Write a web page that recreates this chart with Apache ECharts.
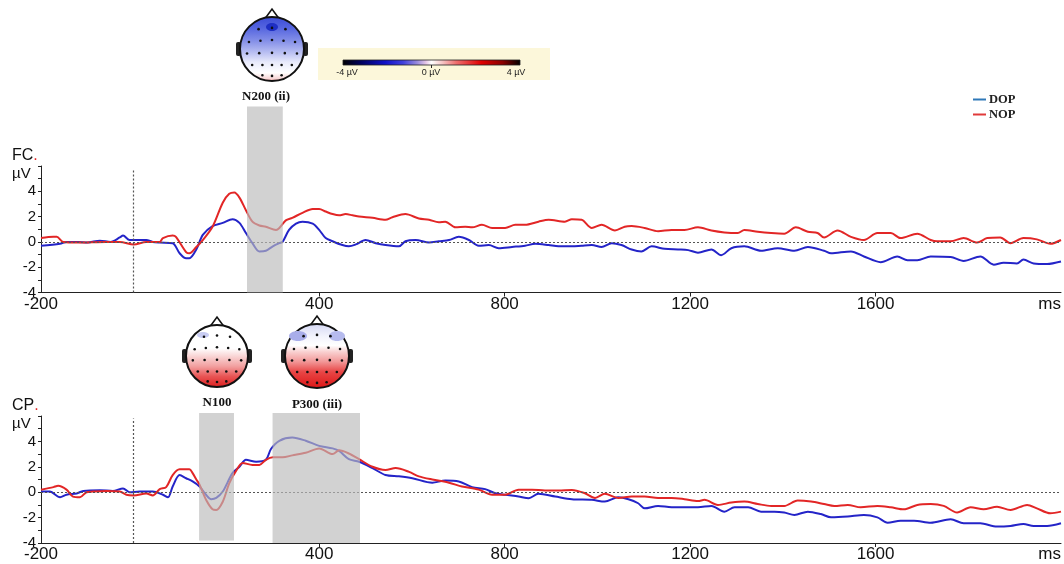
<!DOCTYPE html>
<html>
<head>
<meta charset="utf-8">
<script src="https://cdn.jsdelivr.net/npm/echarts@6/dist/echarts.min.js"></script>
<style>
html,body{margin:0;padding:0;background:#fff;}
#chart{width:1064px;height:564px;}
</style>
</head>
<body>
<div id="chart"></div>
<script>
// ---- Data (ms, µV) ----
const xTickLabels = [-200, 400, 800, 1200, 1600, 2000];
const yTickLabels = [-4, -2, 0, 2, 4];
const seriesNames = ['DOP', 'NOP'];

const fcNopT = [-200,-173,-166,-152,-120,-60,-30,0,27,56,63,84,91,113,120,135,149,170,192,206,217,228,242,256,271,285,307,314,328,342,364,386,400,414,429,443,457,472,486,515,543,558,586,615,637,658,672,694,715,730,751,773,801,823,844,873,895,930,945,966,988,1009,1038,1059,1074,1102,1131,1160,1188,1217,1246,1274,1303,1317,1346,1375,1403,1428,1454,1475,1489,1518,1547,1575,1604,1633,1654,1690,1719,1733,1762,1790,1819,1841,1869,1891,1919,1948,1977,2000];
const fcNopV = [0.3,0.4,0.4,0.0,-0.05,0.0,0.0,-0.2,0.0,0.0,0.3,0.5,0.4,-0.8,-0.9,-0.4,0.15,1.2,3.1,3.8,3.9,3.5,2.5,1.6,1.3,1.2,0.95,1.1,1.7,1.9,2.3,2.6,2.6,2.4,2.2,2.1,2.2,2.1,2.0,1.9,1.75,1.95,2.2,1.85,1.75,1.55,1.6,1.15,1.2,1.15,1.35,1.1,1.1,1.35,1.35,1.6,1.75,1.6,1.8,1.75,1.1,1.35,0.9,1.2,1.25,1.1,0.85,0.95,0.95,1.15,0.9,0.75,0.7,0.95,0.8,0.7,0.65,1.15,0.8,0.7,0.35,0.9,0.4,0.15,0.7,0.7,0.3,0.65,0.15,0.05,0.05,0.3,-0.05,0.3,0.35,-0.1,0.3,0.2,-0.15,0.15];

const fcDopT = [-200,-159,-145,-120,-100,-73,-50,-30,-23,-9,0,27,41,56,84,99,113,120,135,149,170,192,213,228,242,256,271,285,300,314,321,335,350,364,386,400,414,429,450,464,479,500,522,543,572,586,608,637,658,680,701,723,744,766,787,816,844,866,895,916,945,966,988,1009,1031,1052,1074,1095,1117,1145,1174,1196,1217,1246,1267,1289,1317,1353,1389,1425,1454,1489,1504,1547,1575,1611,1647,1669,1690,1719,1762,1790,1826,1855,1876,1905,1919,1941,1970,2000];
const fcDopV = [-0.3,-0.15,0.0,0.0,-0.05,0.1,0.0,0.35,0.5,0.15,0.15,0.15,0.0,-0.05,-0.1,-0.9,-1.3,-1.3,-0.6,0.55,1.25,1.5,1.8,1.5,0.7,-0.1,-0.75,-0.7,-0.35,-0.1,0.0,0.95,1.45,1.6,1.45,0.95,0.3,0.05,-0.25,-0.35,-0.2,0.15,-0.1,-0.25,-0.35,0.05,0.15,-0.05,0.05,0.15,0.4,0.15,-0.3,-0.25,-0.5,-0.4,-0.3,-0.15,-0.25,-0.35,-0.35,-0.3,-0.25,-0.4,-0.1,-0.25,-0.6,-0.75,-0.35,-0.55,-0.6,-0.65,-0.85,-0.6,-1.05,-0.5,-0.35,-0.7,-0.5,-0.7,-0.4,-0.7,-0.9,-0.75,-1.15,-1.6,-1.15,-1.45,-1.45,-1.15,-1.2,-1.5,-1.15,-1.8,-1.65,-1.7,-1.4,-1.7,-1.75,-1.55];

const cpNopT = [-200,-173,-163,-145,-131,-116,-102,-88,-59,-30,-16,0,27,41,56,70,84,99,120,127,135,142,156,170,178,192,206,221,235,256,271,285,300,321,342,371,400,429,443,464,486,515,543,565,594,615,644,680,708,744,773,801,830,859,887,916,945,973,995,1016,1045,1074,1102,1131,1160,1188,1217,1231,1260,1289,1317,1346,1375,1403,1432,1461,1489,1511,1540,1568,1604,1633,1661,1690,1719,1747,1776,1805,1833,1862,1891,1927,1948,1977,2000];
const cpNopV = [0.2,0.4,0.5,0.2,-0.35,-0.4,0.0,0.05,0.1,0.05,-0.2,-0.25,-0.1,-0.25,0.25,0.4,1.35,1.8,1.8,1.5,1.0,0.6,-0.6,-1.35,-1.4,-0.75,0.7,1.7,2.3,2.15,2.15,2.55,2.75,2.75,2.9,3.1,3.45,3.0,3.3,3.05,2.6,2.0,1.75,1.9,1.6,1.25,1.0,0.75,0.45,0.2,-0.2,-0.2,0.2,0.2,0.13,0.13,0.18,-0.08,-0.45,-0.13,-0.45,-0.34,-0.34,-0.45,-0.45,-0.55,-0.7,-0.6,-1.0,-0.82,-0.74,-0.93,-1.08,-1.08,-0.66,-0.74,-0.93,-1.08,-1.0,-1.19,-1.08,-1.19,-1.35,-1.0,-0.93,-1.08,-1.6,-1.19,-1.35,-1.14,-1.4,-1.0,-1.27,-1.66,-1.53];

const cpDopT = [-200,-181,-159,-145,-123,-109,-73,-45,-23,-9,13,41,63,74,84,99,113,127,142,156,167,178,192,213,228,242,264,285,296,314,342,371,400,429,443,464,486,515,543,572,601,644,672,701,730,758,780,801,830,852,873,909,945,988,1016,1045,1067,1088,1102,1131,1160,1188,1217,1246,1274,1296,1325,1353,1382,1403,1425,1454,1482,1504,1540,1575,1604,1626,1654,1683,1719,1762,1790,1826,1862,1891,1919,1941,1970,2000];
const cpDopV = [0.05,0.05,-0.4,-0.2,-0.1,0.1,0.15,0.1,0.3,0.0,0.05,0.05,-0.2,-0.4,0.45,1.35,1.1,0.85,0.45,-0.2,-0.55,-0.45,0.05,1.5,2.0,2.55,2.4,2.55,3.4,4.05,4.3,4.05,3.65,3.45,3.25,2.6,2.4,1.9,1.35,1.25,1.1,0.75,0.92,0.85,0.4,0.24,-0.08,-0.2,-0.34,-0.47,-0.13,-0.34,-0.55,-0.6,-0.74,-0.4,-0.55,-0.87,-1.27,-1.08,-1.19,-1.19,-1.19,-1.08,-1.53,-1.19,-1.19,-1.53,-1.53,-1.6,-1.79,-1.53,-1.72,-1.98,-1.92,-1.79,-1.98,-2.4,-2.24,-2.24,-2.4,-2.13,-2.45,-2.45,-2.71,-2.66,-2.5,-2.66,-2.66,-2.45];

// Analysis windows [startMs, endMs, bottomµV, topµV]
const fcWindows = [[243, 320, -4, 10.7]];
const cpWindows = [[140, 215, -3.8, 6.25], [298, 486, -4, 6.25]];

// ---- helpers ----
function zip(t, v){ const n=Math.min(t.length,v.length); const out=[]; for(let i=0;i<n;i++) out.push([t[i],v[i]]); return out; }
const BLUE = '#2424C8', RED = '#E22626';
const SANS = 'Liberation Sans, Arial, sans-serif';
const SERIF = 'Liberation Serif, Times New Roman, serif';

const chart = echarts.init(document.getElementById('chart'), null, {renderer:'canvas'});

function xAxisCfg(idx){
  return {
    type:'value', gridIndex: idx, min:-200, max:2000,
    axisLine:{show:true, onZero:false, lineStyle:{color:'#222', width:1}},
    axisTick:{show:true, length:4, customValues:[400,800,1200,1600], lineStyle:{color:'#222'}},
    axisLabel:{show:true, customValues: xTickLabels, margin:3, fontSize:17, color:'#111', fontFamily:SANS,
      formatter: v => v === 2000 ? 'ms' : String(v), alignMaxLabel:'right'},
    splitLine:{show:false}
  };
}
function yAxisCfg(idx){
  return {
    type:'value', gridIndex: idx, min:-4, max:6,
    axisLine:{show:true, onZero:false, lineStyle:{color:'#222', width:1}},
    axisTick:{show:true, length:3, customValues:[-4,-3,-2,-1,0,1,2,3,4,5,6], lineStyle:{color:'#222'}},
    axisLabel:{show:true, customValues: yTickLabels, margin:5, fontSize:15, color:'#111', fontFamily:SANS},
    splitLine:{show:false}
  };
}
function hiddenX(idx){ return {type:'value', gridIndex:idx, min:-200, max:2000, show:false}; }
function hiddenY(idx, top){ return {type:'value', gridIndex:idx, min:-4, max:top, show:false}; }
function refSeries(idx, vTop){
  return {
    type:'line', xAxisIndex:idx, yAxisIndex:idx, data:[], z:1, silent:true,
    markLine:{silent:true, symbol:['none','none'], animation:false, label:{show:false},
      lineStyle:{type:[2,2], color:'#555', width:1.2},
      data:[ [{coord:[-200,0]},{coord:[2000,0]}], [{coord:[0,-4]},{coord:[0,vTop]}] ]}
  };
}
function shadeSeries(idx, wins){
  return {
    type:'line', xAxisIndex:idx, yAxisIndex:idx, data:[], z:10, silent:true,
    markArea:{silent:true, z:10, animation:false, itemStyle:{color:'rgba(186,186,186,0.66)'},
      data: wins.map(w => [{xAxis:w[0], yAxis:w[2]}, {xAxis:w[1], yAxis:w[3]}])}
  };
}
function wave(name, idx, data, color){
  return {name, type:'line', xAxisIndex:idx, yAxisIndex:idx, data, showSymbol:false, symbol:'none',
    smooth:0.3, lineStyle:{color, width:2}, itemStyle:{color}, z:3, animation:false};
}

// ---- topomap decorations ----
const elecs = [[-0.42,-0.62],[0,-0.66],[0.42,-0.62],[-0.72,-0.22],[-0.36,-0.26],[0,-0.28],[0.36,-0.26],[0.72,-0.22],
  [-0.78,0.14],[-0.4,0.13],[0,0.12],[0.4,0.13],[0.78,0.14],[-0.62,0.5],[-0.3,0.5],[0,0.5],[0.3,0.5],[0.62,0.5],[-0.3,0.82],[0,0.84],[0.3,0.82]];
function head(cx, cy, r, stops, extras){
  const ch = [];
  ch.push({type:'polygon', shape:{points:[[cx-8,cy-r+3],[cx,cy-r-8],[cx+8,cy-r+3]]}, style:{fill:'#fff', stroke:'#111', lineWidth:1.6}, z:100});
  ch.push({type:'rect', shape:{x:cx-r-4, y:cy-7, width:5, height:14, r:2}, style:{fill:'#222'}, z:100});
  ch.push({type:'rect', shape:{x:cx+r-1, y:cy-7, width:5, height:14, r:2}, style:{fill:'#222'}, z:100});
  ch.push({type:'circle', shape:{cx, cy, r}, style:{fill:new echarts.graphic.LinearGradient(0,0,0,1,stops), stroke:'#111', lineWidth:2}, z:101});
  (extras||[]).forEach(e => ch.push(Object.assign({z:102}, e)));
  elecs.forEach(p => ch.push({type:'circle', shape:{cx:cx+p[0]*r, cy:cy+p[1]*r, r:1.3}, style:{fill:'#111'}, z:103}));
  return ch;
}
const g = [];
g.push(...head(272, 49, 32, [
  {offset:0,color:'#3A4AD6'},{offset:0.18,color:'#5565DF'},{offset:0.38,color:'#8590E8'},{offset:0.55,color:'#B8BEF2'},
  {offset:0.7,color:'#E8EAFB'},{offset:0.86,color:'#FFFFFF'},{offset:0.95,color:'#F7D5D5'},{offset:1,color:'#EE8E8E'}],
  [{type:'ellipse', shape:{cx:272, cy:27, rx:6, ry:4}, style:{fill:'#1F2FC4'}}]));
g.push(...head(217, 356, 31, [
  {offset:0,color:'#FFFFFF'},{offset:0.38,color:'#FFFFFF'},{offset:0.5,color:'#F9D6D6'},{offset:0.66,color:'#F2A0A0'},
  {offset:0.82,color:'#E85454'},{offset:1,color:'#DD1C1C'}],
  [{type:'ellipse', shape:{cx:203, cy:335, rx:6, ry:3}, style:{fill:'#C8CCF2'}}]));
g.push(...head(317, 356, 32, [
  {offset:0,color:'#D4D7F4'},{offset:0.2,color:'#F2F3FC'},{offset:0.34,color:'#FFFFFF'},{offset:0.44,color:'#F9CFCF'},
  {offset:0.58,color:'#F29A9A'},{offset:0.74,color:'#E84646'},{offset:1,color:'#DC1414'}],
  [{type:'ellipse', shape:{cx:298, cy:336, rx:9, ry:5}, style:{fill:'#A9AEEA'}},
   {type:'ellipse', shape:{cx:337, cy:336, rx:8, ry:5}, style:{fill:'#B6BBEE'}}]));
// colour scale
g.push({type:'rect', shape:{x:318, y:48, width:232, height:32}, style:{fill:'#FCF7DA'}, z:100});
g.push({type:'rect', shape:{x:343, y:60, width:177, height:5}, style:{fill:new echarts.graphic.LinearGradient(0,0,1,0,[
  {offset:0,color:'#000000'},{offset:0.1,color:'#00005A'},{offset:0.24,color:'#1010C8'},{offset:0.34,color:'#4040DC'},
  {offset:0.42,color:'#9A8CDC'},{offset:0.47,color:'#E8C8E8'},{offset:0.5,color:'#FFFFFF'},{offset:0.56,color:'#F6C6C6'},
  {offset:0.64,color:'#EE6E6E'},{offset:0.78,color:'#E00000'},{offset:0.9,color:'#8A0000'},{offset:1,color:'#000000'}]),
  stroke:'#222', lineWidth:0.8}, z:101});
g.push({type:'line', shape:{x1:431.5, y1:65, x2:431.5, y2:68}, style:{stroke:'#222', lineWidth:1}, z:101});
[['-4 µV',347],['0 µV',431],['4 µV',516]].forEach(a => g.push({type:'text', x:a[1], y:73,
  style:{text:a[0], fill:'#222', font:'9px '+SANS, align:'center', verticalAlign:'middle'}, z:101}));
// component labels
[['N200 (ii)',266,97],['N100',217,403],['P300 (iii)',317,405]].forEach(a => g.push({type:'text', x:a[1], y:a[2],
  style:{text:a[0], fill:'#111', font:'bold 13px '+SERIF, align:'center', verticalAlign:'middle'}, z:101}));
// channel / unit labels
[['FC',156],['CP',406]].forEach(a => g.push({type:'text', x:12, y:a[1],
  style:{text:'{n|'+a[0]+'}{d|.}', rich:{n:{fill:'#111', font:'16px '+SANS}, d:{fill:'#E22626', font:'16px '+SANS}}, verticalAlign:'middle'}, z:101}));
[174,424].forEach(y => g.push({type:'text', x:12, y,
  style:{text:'µV', fill:'#111', font:'15px '+SANS, verticalAlign:'middle'}, z:101}));

const option = {
  animation:false,
  backgroundColor:'#ffffff',
  grid:[
    {left:41, right:0, top:166, height:126.5},
    {left:41, right:0, top:416, height:127},
    {left:41, right:0, top:106.5, height:186},      // FC shading window (extends above plot)
    {left:41, right:0, top:413, height:130.1}       // CP shading windows
  ],
  xAxis:[xAxisCfg(0), xAxisCfg(1), hiddenX(2), hiddenX(3)],
  yAxis:[yAxisCfg(0), yAxisCfg(1), hiddenY(2, 10.7), hiddenY(3, 6.25)],
  legend:{
    data:[{name:seriesNames[0], itemStyle:{color:'#2F78B8'}}, {name:seriesNames[1], itemStyle:{color:'#E03A3A'}}],
    orient:'vertical', left:968, top:88, icon:'rect', itemWidth:13, itemHeight:2, itemGap:2,
    textStyle:{fontFamily:SERIF, fontWeight:'bold', fontSize:12.5, color:'#222', padding:[0,0,0,-2]}
  },
  graphic: g,
  series:[
    refSeries(0, 5.7), refSeries(1, 5.8),
    wave(seriesNames[0], 0, zip(fcDopT, fcDopV), BLUE),
    wave(seriesNames[1], 0, zip(fcNopT, fcNopV), RED),
    wave(seriesNames[0], 1, zip(cpDopT, cpDopV), BLUE),
    wave(seriesNames[1], 1, zip(cpNopT, cpNopV), RED),
    shadeSeries(2, fcWindows), shadeSeries(3, cpWindows)
  ]
};
chart.setOption(option);
</script>
</body>
</html>
